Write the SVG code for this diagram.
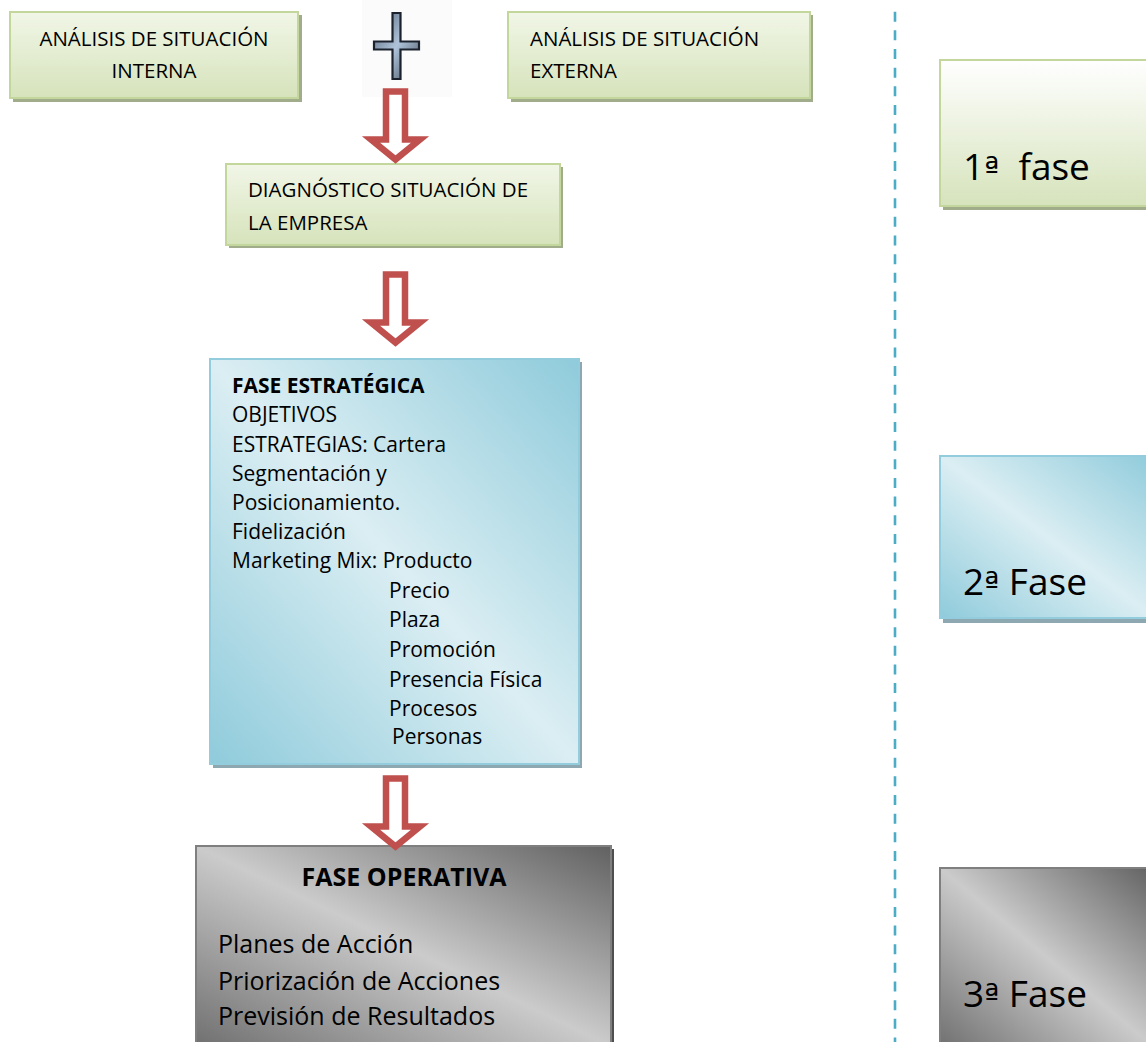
<svg xmlns="http://www.w3.org/2000/svg" width="1146" height="1042" viewBox="0 0 1146 1042">
  <style>
    .t { font-family: "Open Sans", "Noto Sans", sans-serif; fill: #000; }
    .ord { font-family: "DejaVu Sans", "Liberation Sans", sans-serif; font-size: 32px; }
    .s20 { font-size: 20.5px; }
    .s21 { font-size: 21px; }
    .s25 { font-size: 25px; }
    .s37 { font-size: 37px; }
    .b { font-weight: bold; }
    .mid { text-anchor: middle; }
    .green { fill: url(#gGreen); stroke: #C3D69B; stroke-width: 2; }
    .greenHi { fill: url(#gGreenHi); stroke: #C3D69B; stroke-width: 2; }
    .blue { fill: url(#gBlue); stroke: #93CDDD; stroke-width: 2; }
    .gray { fill: url(#gGray); stroke: #7F7F7F; stroke-width: 2; }
    .shGreen { fill: #A0AC8A; }
    .shBlue { fill: #8EA8B1; }
    .shGray { fill: #4F4F4F; }
    .arrow { fill: #FFFFFF; stroke: #C0504D; stroke-width: 6.5; stroke-linejoin: miter; stroke-miterlimit: 10; }
  </style>
  <defs>
    <linearGradient id="gGreen" x1="0" y1="0" x2="0" y2="1">
      <stop offset="0" stop-color="#F1F6E7"/>
      <stop offset="1" stop-color="#D6E3BB"/>
    </linearGradient>
    <linearGradient id="gGreenHi" x1="0" y1="0" x2="0" y2="1">
      <stop offset="0" stop-color="#FFFFFF"/>
      <stop offset="1" stop-color="#D6E3BC"/>
    </linearGradient>
    <linearGradient id="gBlue" x1="1" y1="0" x2="0" y2="1">
      <stop offset="0" stop-color="#8FCBDB"/>
      <stop offset="0.5" stop-color="#DBEEF3"/>
      <stop offset="1" stop-color="#8FCBDB"/>
    </linearGradient>
    <linearGradient id="gGray" x1="1" y1="0" x2="0" y2="1">
      <stop offset="0" stop-color="#616161"/>
      <stop offset="0.5" stop-color="#CBCBCB"/>
      <stop offset="1" stop-color="#707070"/>
    </linearGradient>
    <linearGradient id="gCross" x1="0" y1="0" x2="1" y2="1">
      <stop offset="0" stop-color="#4E5E72"/>
      <stop offset="0.5" stop-color="#AFC4DA"/>
      <stop offset="1" stop-color="#3F4B5A"/>
    </linearGradient>
    <!-- hollow block arrow pointing down, local origin at top centre -->
    <path id="blockArrow" d="M-9.5,3.5 H9.5 V51.5 H24.5 L0,71.5 L-24.5,51.5 H-9.5 Z"/>
  </defs>

  <!-- dashed divider between the flow and the phase labels -->
  <g id="divider">
    <line x1="895" y1="11.7" x2="895" y2="1042" stroke="#4BACC6" stroke-width="2.6" stroke-dasharray="10 8.65"/>
  </g>

  <g id="node-analisis-interna">
    <rect class="shGreen" x="13" y="15" width="289" height="87"/>
    <rect class="green" x="10" y="12" width="288" height="86"/>
    <text class="t s20 mid" x="154" y="46">ANÁLISIS DE SITUACIÓN</text>
    <text class="t s20 mid" x="154" y="78">INTERNA</text>
  </g>

  <g id="plus-sign">
    <rect x="362" y="0" width="90" height="97" fill="#FBFBFC"/>
    <path d="M392.5,13 H400.5 V41.5 H419 V49.5 H400.5 V79 H392.5 V49.5 H374 V41.5 H392.5 Z" fill="url(#gCross)" stroke="#1B222E" stroke-width="2.2"/>
  </g>

  <g id="node-analisis-externa">
    <rect class="shGreen" x="511" y="15" width="302" height="87"/>
    <rect class="green" x="508" y="12" width="302" height="86"/>
    <text class="t s20" x="530" y="46">ANÁLISIS DE SITUACIÓN</text>
    <text class="t s20" x="530" y="78">EXTERNA</text>
  </g>

  <g id="node-diagnostico">
    <rect class="shGreen" x="229" y="167" width="334" height="81"/>
    <rect class="green" x="226" y="164" width="334" height="81"/>
    <text class="t s20" x="248" y="197">DIAGNÓSTICO SITUACIÓN DE</text>
    <text class="t s20" x="248" y="230">LA EMPRESA</text>
  </g>

  <g id="node-fase-estrategica">
    <rect class="shBlue" x="213" y="362" width="369" height="406"/>
    <rect class="blue" x="210" y="359" width="369" height="405"/>
    <text class="t s21 b" x="232" y="393">FASE ESTRATÉGICA</text>
    <text class="t s21" x="232" y="422">OBJETIVOS</text>
    <text class="t s21" x="232" y="452">ESTRATEGIAS: Cartera</text>
    <text class="t s21" x="232" y="481">Segmentación y</text>
    <text class="t s21" x="232" y="510">Posicionamiento.</text>
    <text class="t s21" x="232" y="539">Fidelización</text>
    <text class="t s21" x="232" y="568">Marketing Mix: Producto</text>
    <text class="t s21" x="389" y="598">Precio</text>
    <text class="t s21" x="389" y="627">Plaza</text>
    <text class="t s21" x="389" y="657">Promoción</text>
    <text class="t s21" x="389" y="687">Presencia Física</text>
    <text class="t s21" x="389" y="716">Procesos</text>
    <text class="t s21" x="392" y="744">Personas</text>
  </g>

  <g id="node-fase-operativa">
    <rect class="shGray" x="199" y="849" width="415" height="200"/>
    <rect class="gray" x="196" y="846" width="415" height="200"/>
    <text class="t s25 b mid" x="404" y="886">FASE OPERATIVA</text>
    <text class="t s25" x="218" y="953">Planes de Acción</text>
    <text class="t s25" x="218" y="990">Priorización de Acciones</text>
    <text class="t s25" x="218" y="1025">Previsión de Resultados</text>
  </g>

  <g id="node-fase-1">
    <rect class="shGreen" x="943" y="64" width="215" height="146"/>
    <rect class="greenHi" x="940" y="60" width="215" height="146"/>
    <text class="t s37" x="963" y="180">1<tspan class="ord">ª</tspan>&#160; fase</text>
  </g>

  <g id="node-fase-2">
    <rect class="shBlue" x="943" y="460" width="215" height="163"/>
    <rect class="blue" x="940" y="456" width="215" height="162"/>
    <text class="t s37" x="963" y="595">2<tspan class="ord">ª</tspan> Fase</text>
  </g>

  <g id="node-fase-3">
    <rect class="shGray" x="943" y="872" width="215" height="180"/>
    <rect class="gray" x="940" y="868" width="215" height="180"/>
    <text class="t s37" x="963" y="1007">3<tspan class="ord">ª</tspan> Fase</text>
  </g>

  <!-- flow arrows between stages -->
  <g id="connectors">
    <use href="#blockArrow" class="arrow" transform="translate(395.5,88)"/>
    <use href="#blockArrow" class="arrow" transform="translate(395.5,271)"/>
    <use href="#blockArrow" class="arrow" transform="translate(395.5,775)"/>
  </g>
</svg>
